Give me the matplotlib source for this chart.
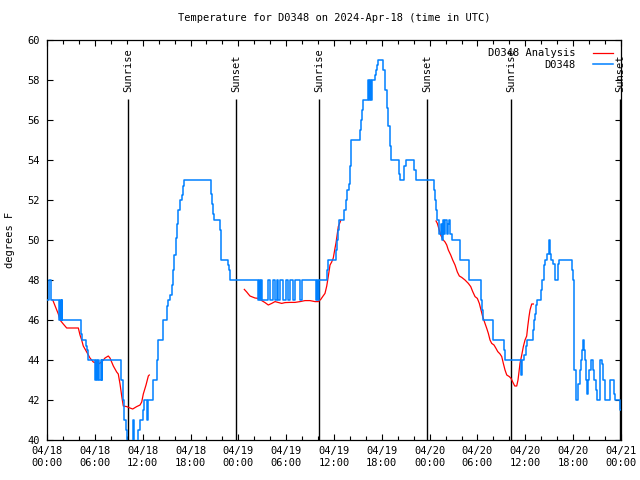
#!/usr/bin/env python3
"""D0348 temperature, 2024-Apr-18 .. 04/21"""

import matplotlib

matplotlib.use("Agg")
import matplotlib.pyplot as plt
from matplotlib.ticker import MultipleLocator

plt.rcParams["font.family"] = "DejaVu Sans Mono"
plt.rcParams["font.size"] = 7.5

# hours since 04/18 00:00 UTC, temperatures in F
obs_hours = [
    0.06, 0.29, 0.50, 1.51, 1.63, 1.76, 1.82, 1.88, 4.23, 4.39, 4.89, 5.02, 5.18,
    6.02, 6.18, 6.27, 6.36, 6.56, 6.74, 6.84, 6.94, 9.24, 9.28, 9.50, 9.70, 9.91,
    10.00, 10.83, 10.95, 11.45, 11.67, 12.04, 12.17, 12.51, 12.71, 13.33, 13.76,
    13.96, 14.59, 15.09, 15.22, 15.43, 15.64, 15.77, 15.97, 16.18, 16.34, 16.47,
    16.68, 16.90, 17.02, 17.22, 20.61, 20.74, 20.86, 20.99, 21.70, 21.79, 21.86,
    22.74, 22.87, 22.99, 26.51, 26.63, 26.72, 26.84, 26.97, 27.76, 27.97, 28.31,
    28.60, 28.81, 29.01, 29.23, 29.64, 29.98, 30.27, 30.48, 30.82, 31.11, 31.74,
    31.95, 33.71, 33.91, 34.03, 34.16, 35.16, 35.29, 36.21, 36.34, 36.47, 36.67,
    37.29, 37.47, 37.67, 37.88, 38.01, 38.13, 39.26, 39.39, 39.55, 39.68, 40.30,
    40.43, 40.52, 40.64, 40.77, 41.14, 41.27, 41.43, 41.56, 42.19, 42.40, 42.61,
    42.81, 43.03, 43.15, 44.12, 44.24, 44.82, 45.00, 46.07, 46.25, 48.58, 48.71,
    48.83, 48.96, 49.21, 49.39, 49.55, 49.71, 49.84, 49.96, 50.14, 50.30, 50.47,
    50.59, 50.77, 51.81, 52.90, 54.40, 54.57, 54.73, 55.91, 57.33, 57.49, 59.46,
    59.62, 59.87, 60.05, 60.21, 60.93, 61.05, 61.22, 61.38, 61.51, 61.97, 62.13,
    62.34, 62.51, 62.76, 62.93, 63.06, 63.22, 63.51, 63.72, 64.14, 64.26, 65.82,
    65.98, 66.07, 66.15, 66.32, 66.65, 66.82, 66.99, 67.11, 67.24, 67.37, 67.49,
    67.62, 67.74, 67.87, 68.03, 68.24, 68.45, 68.58, 68.83, 68.96, 69.33, 69.41,
    69.62, 69.79, 69.96, 70.03, 70.59, 71.16, 71.29, 71.88, 72.00,
]
obs_temps = [
    47, 48, 47, 46, 47, 46, 47, 46, 45.3, 45, 44.7, 44.5, 44,
    43, 44, 43, 44, 43, 44, 43, 44, 43.25, 43, 42, 41, 40.5,
    39, 41, 39, 40.5, 41, 41.5, 42, 41, 42, 43, 44,
    45, 46, 46.7, 47, 47.25, 47.75, 48.5, 49.25, 50.1, 50.8, 51.5,
    52, 52.25, 52.7, 53, 52.3, 51.8, 51.3, 51, 50.5, 49.5, 49,
    48.75, 48.5, 48, 47, 48, 47, 48, 47, 48, 47, 48,
    47, 48, 47, 48, 47, 48, 47, 48, 47, 48, 47,
    48, 47, 48, 47, 48, 48.5, 49, 49.5, 50, 50.5, 51,
    51.5, 52, 52.5, 52.8, 53.7, 55, 55.5, 56, 56.5, 57, 58,
    57, 58, 57, 58, 58.25, 58.5, 58.75, 59, 58.5, 57.5, 56.6,
    55.7, 54.7, 54, 53.3, 53, 53.7, 54, 53.5, 53, 52.5, 52,
    51.5, 51, 50.3, 50.8, 50, 51, 50.3, 51, 50.3, 50.8, 51,
    50.3, 50, 49, 48, 47, 46.5, 46, 45, 44.5, 44, 43.25,
    44, 44.25, 44.7, 45, 45.5, 46, 46.3, 46.75, 47, 47.5, 48,
    48.75, 49, 49.3, 50, 49.3, 49, 48.8, 48, 48.8, 49, 48.5,
    48, 46.5, 43.5, 42, 42.8, 43.5, 44, 44.5, 45, 44.5, 44,
    43, 42.3, 43, 43.5, 44, 43.5, 43, 42.5, 42, 43.5, 44,
    43.8, 43, 42.3, 42, 43, 42.3, 42, 41.5, 41.5,
]

ana1_hours = [0.72, 1.22, 1.42, 1.63, 2.04, 2.47, 3.93, 4.14, 4.35, 4.55, 4.98,
              5.39, 5.81, 6.44, 6.86, 7.28, 7.69, 7.90, 8.32, 8.74, 8.94, 9.16,
              9.37, 9.57, 10.00, 10.41, 10.75, 11.25, 11.67, 11.88, 12.08,
              12.42, 12.71, 12.83]
ana1_temps = [47.0, 46.5, 46.3, 46.0, 45.8, 45.6, 45.6, 45.25, 45.0, 44.7, 44.4,
              44.1, 43.9, 43.8, 43.9, 44.1, 44.2, 44.1, 43.7, 43.4, 43.3, 42.8,
              42.2, 41.7, 41.67, 41.6, 41.55, 41.67, 41.75, 41.9, 42.3,
              42.75, 43.2, 43.25]

ana2_hours = [24.75, 25.05, 25.25, 25.46, 26.09, 26.51, 26.93, 27.35, 27.76,
              28.19, 28.60, 29.44, 29.86, 30.48, 31.11, 31.74, 32.36, 32.99,
              33.62, 34.03, 34.34, 34.58, 34.87, 35.09, 35.29, 35.50, 35.71,
              35.91, 36.13, 36.25, 36.42, 36.54, 36.67, 36.84]
ana2_temps = [47.53, 47.4, 47.3, 47.2, 47.1, 47.08, 46.97, 46.87, 46.75,
              46.83, 46.92, 46.83, 46.87, 46.88, 46.88, 46.92, 46.97, 46.97,
              46.92, 46.92, 47.03, 47.17, 47.33, 47.7, 48.2, 48.75, 48.9,
              49.1, 49.6, 49.85, 50.33, 50.67, 50.8, 50.97]

ana3_hours = [48.80, 48.96, 49.13, 49.39, 49.64, 49.93, 50.14, 50.34, 50.64,
              50.89, 51.18, 51.47, 51.72, 52.02, 52.43, 52.85, 53.15, 53.40,
              53.69, 53.98, 54.23, 54.44, 54.65, 54.94, 55.16, 55.36, 55.57,
              55.78, 56.07, 56.32, 56.54, 56.83, 57.04, 57.24, 57.45, 57.67,
              57.99, 58.21, 58.42, 58.67, 58.92, 59.08, 59.21, 59.33, 59.55,
              59.75, 59.96, 60.17, 60.30, 60.46, 60.59, 60.80, 61.01]
ana3_temps = [50.95, 50.83, 50.6, 50.25, 50.03, 49.9, 49.75, 49.5, 49.25,
              49.0, 48.75, 48.4, 48.2, 48.13, 48.0, 47.83, 47.67, 47.42,
              47.17, 47.08, 46.83, 46.5, 46.17, 45.83, 45.58, 45.33, 45.0,
              44.83, 44.75, 44.58, 44.42, 44.3, 44.17, 43.83, 43.5, 43.25,
              43.17, 43.08, 42.9, 42.7, 42.7, 43.0, 43.42, 43.83, 44.25,
              44.67, 45.0, 45.2, 45.67, 46.17, 46.5, 46.8, 46.8]

sun_hours = [10.17, 23.71, 34.15, 47.72, 58.2, 71.9]
sun_names = ["Sunrise", "Sunset", "Sunrise", "Sunset", "Sunrise", "Sunset"]

RED = "#ff0000"
BLUE = "#0080ff"


def main() -> None:
    fig = plt.figure(figsize=(6.4, 4.8), dpi=100)
    ax = fig.add_axes([47 / 640, 40 / 480, 574 / 640, 400 / 480])

    for h, name in zip(sun_hours, sun_names):
        ax.vlines(h, 40, 57.05, color="black", lw=1.0, zorder=1)
        ax.text(h, 57.38, name, rotation=90, ha="center", va="bottom")

    segs = [(ana1_hours, ana1_temps), (ana2_hours, ana2_temps), (ana3_hours, ana3_temps)]
    for i, (hh, tt) in enumerate(segs):
        ax.plot(hh, tt, color=RED, lw=0.9, zorder=2,
                label="D0348 Analysis" if i == 0 else None)
    ax.plot(obs_hours, obs_temps, drawstyle="steps-post", color=BLUE, lw=1.1,
            zorder=3, label="D0348")

    ax.set_xlim(0, 72)
    ax.set_ylim(40, 60)
    ticks = list(range(0, 73, 6))
    ax.set_xticks(ticks)
    ax.set_xticklabels([f"04/{18 + h // 24:02d}\n{h % 24:02d}:00" for h in ticks],
                       linespacing=1.35)
    ax.xaxis.set_minor_locator(MultipleLocator(2))
    ax.yaxis.set_major_locator(MultipleLocator(2))
    ax.tick_params(which="both", direction="in", top=True, right=True, width=0.8)
    ax.tick_params(which="major", length=4.5)
    ax.tick_params(which="minor", length=3)
    ax.tick_params(axis="x", pad=4)
    ax.tick_params(axis="y", pad=5)
    for s in ax.spines.values():
        s.set_linewidth(0.9)

    ax.set_title("Temperature for D0348 on 2024-Apr-18 (time in UTC)", pad=14,
                 fontsize=7.5)
    ax.set_ylabel("degrees F")
    ax.yaxis.set_label_coords(-32 / 574, 0.5)

    ax.legend(loc="upper right", frameon=False, markerfirst=False,
              handlelength=1.9, handletextpad=1.7, borderaxespad=0.6,
              borderpad=0.2, labelspacing=0.15)

    fig.savefig("out.png", dpi=100)


if __name__ == "__main__":
    main()
